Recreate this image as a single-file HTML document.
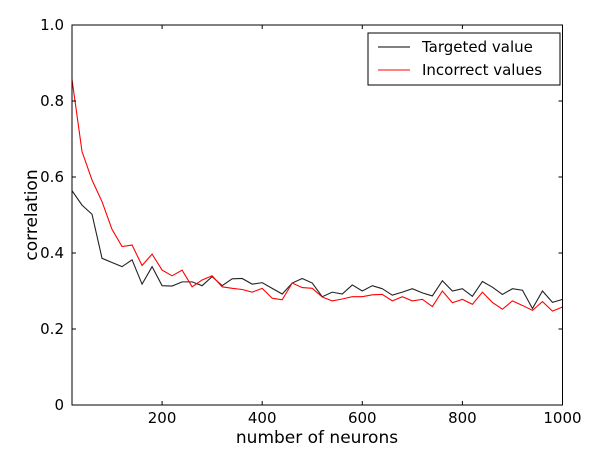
<!DOCTYPE html>
<html><head><meta charset="utf-8"><style>
body{margin:0;background:#fff}
svg text{font-family:"DejaVu Sans","Liberation Sans",sans-serif;fill:#000}
</style></head><body>
<svg width="604" height="458" xmlns="http://www.w3.org/2000/svg">
<g id="series"></g>
<rect x="72" y="25" width="490.5" height="380" fill="none" stroke="#000" stroke-width="1"/>
<g id="ticks"></g>
<text x="317" y="443" font-size="17" text-anchor="middle">number of neurons</text>
<text transform="translate(37,215) rotate(-90)" font-size="17" text-anchor="middle">correlation</text>
<g>
<rect x="368" y="33" width="192" height="52" fill="#fff" stroke="#000" stroke-width="1"/>
<line x1="378" y1="47" x2="410" y2="47" stroke="#000"/>
<text x="422" y="52" font-size="15">Targeted value</text>
<line x1="378" y1="70" x2="410" y2="70" stroke="#f00"/>
<text x="422" y="75" font-size="15">Incorrect values</text>
</g>
</svg>
<script>
const xs = [];
for (let i = 0; i < 50; i++) xs.push(20 + 20 * i);
const targeted = [0.564,0.526,0.502,0.386,0.375,0.364,0.382,0.318,0.364,0.314,0.313,0.324,0.324,0.314,0.338,0.314,0.332,0.333,0.318,0.322,0.307,0.292,0.321,0.333,0.321,
0.285,0.297,0.292,0.316,0.300,0.314,0.306,0.289,0.297,0.306,0.295,0.287,0.327,0.300,0.306,0.286,0.325,0.310,0.291,0.306,0.302,0.254,0.300,0.270,0.278];
const incorrect = [0.857,0.667,0.592,0.535,0.462,0.417,0.421,0.367,0.397,0.355,0.340,0.355,0.311,0.329,0.340,0.311,0.307,0.304,0.297,0.307,0.281,0.277,0.321,0.309,0.307,
0.284,0.274,0.279,0.285,0.285,0.290,0.291,0.274,0.285,0.274,0.278,0.259,0.300,0.269,0.278,0.265,0.297,0.270,0.252,0.274,0.262,0.249,0.272,0.247,0.258];
const xTicks = [200,400,600,800,1000];
const yTicks = [0,0.2,0.4,0.6,0.8,1.0];
const yTickLabels = ["0","0.2","0.4","0.6","0.8","1.0"];
const X = v => 72 + (v - 20) * 0.5005;
const Y = v => 405 - v * 380;
const NS = "http://www.w3.org/2000/svg";
const series = document.getElementById('series');
function line(data, color, name) {
  const p = document.createElementNS(NS, 'polyline');
  p.setAttribute('points', data.map((v, i) => X(xs[i]) + ',' + Y(v)).join(' '));
  p.setAttribute('fill', 'none');
  p.setAttribute('stroke', color);
  p.setAttribute('stroke-width', '1.1');
  
  
  series.appendChild(p);
}
line(targeted, '#222', 'targeted-value-line');
line(incorrect, '#f00', 'incorrect-values-line');
const ticks = document.getElementById('ticks');
xTicks.forEach(t => {
  const x = X(t);
  ['405', '25'].forEach((y0, j) => {
    const l = document.createElementNS(NS, 'line');
    l.setAttribute('x1', x); l.setAttribute('x2', x);
    l.setAttribute('y1', y0); l.setAttribute('y2', j ? 29 : 401);
    l.setAttribute('stroke', '#000');
    
    
    ticks.appendChild(l);
  });
  const tx = document.createElementNS(NS, 'text');
  tx.setAttribute('x', x); tx.setAttribute('y', 423);
  tx.setAttribute('font-size', '15'); tx.setAttribute('text-anchor', 'middle');
  
  
  tx.textContent = t;
  ticks.appendChild(tx);
});
yTicks.forEach((t, i) => {
  const y = Y(t);
  [[72, 76], [562.5, 558.5]].forEach(([a, b]) => {
    const l = document.createElementNS(NS, 'line');
    l.setAttribute('x1', a); l.setAttribute('x2', b);
    l.setAttribute('y1', y); l.setAttribute('y2', y);
    l.setAttribute('stroke', '#000');
    
    
    ticks.appendChild(l);
  });
  const tx = document.createElementNS(NS, 'text');
  tx.setAttribute('x', 64); tx.setAttribute('y', y + 5);
  tx.setAttribute('font-size', '15'); tx.setAttribute('text-anchor', 'end');
  
  
  tx.textContent = yTickLabels[i];
  ticks.appendChild(tx);
});
</script>
</body></html>
